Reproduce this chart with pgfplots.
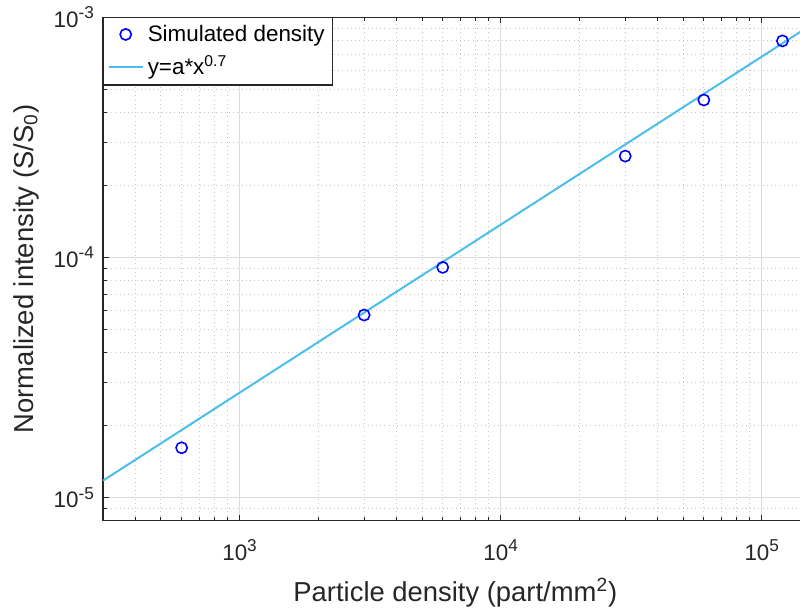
\documentclass[border=0pt]{standalone}
\usepackage{pgfplots}
\pgfplotsset{compat=1.18}
\usepackage{fontspec}
\setmainfont{Liberation Sans}
\definecolor{fitc}{rgb}{0.30,0.745,0.933}
\definecolor{axc}{rgb}{0.15,0.15,0.15}
\newcommand{\tp}[1]{10\raisebox{4.2pt}{\fontsize{8.6}{9}\selectfont #1}}
\pgfplotstableread{
x y
600 1.61e-5
3000 5.75e-5
6000 9.08e-5
30000 2.64e-4
60000 4.52e-4
120000 7.97e-4
}\simdata
\pgfplotstableread{
x y
300 1.175e-5
150000 9.10e-4
}\fitdata
\begin{document}
\begin{tikzpicture}
\begin{axis}[
  xmode=log, ymode=log,
  scale only axis, width=352.3pt, height=251.7pt,
  xmin=300, xmax=1.5e5, ymin=8e-6, ymax=1e-3,
  xtick={1e3,1e4,1e5},
  xticklabels={\tp{3},\tp{4},\tp{5}},
  ytick={1e-5,1e-4,1e-3},
  yticklabels={\tp{-5},\tp{-4},\tp{-3}},
  minor xtick={300,400,500,600,700,800,900,2000,3000,4000,5000,6000,7000,8000,9000,20000,30000,40000,50000,60000,70000,80000,90000},
  minor ytick={9e-6,2e-5,3e-5,4e-5,5e-5,6e-5,7e-5,8e-5,9e-5,2e-4,3e-4,4e-4,5e-4,6e-4,7e-4,8e-4,9e-4},
  grid=both,
  major grid style={color=black!14, line width=0.5pt},
  minor grid style={color=black!22, line width=0.5pt, dash pattern=on 0.5pt off 1.6pt},
  tick align=inside,
  major tick length=3pt, minor tick length=2pt,
  tick style={axc, line width=0.5pt},
  axis line style={axc, line width=0.6pt},
  ticklabel style={font=\fontsize{11.2}{12}\selectfont, color=axc},
  xticklabel style={yshift=-6pt},
  yticklabel style={xshift=-1pt},
  xlabel={Particle density (part/mm\textsuperscript{2})},
  ylabel={Normalized intensity (S/S\textsubscript{0})},
  label style={font=\fontsize{13.7}{15}\selectfont, color=axc},
  xlabel style={at={(axis description cs:0.5,0)}, anchor=base, yshift=-40.5pt},
  ylabel style={at={(axis description cs:-0.0993,0.5)}, anchor=base},
  legend style={at={(0,1)}, anchor=north west, draw=axc, line width=0.6pt, fill=white,
    font=\fontsize{11.2}{12}\selectfont, inner xsep=2pt, inner ysep=1.5pt, row sep=2pt},
  legend cell align=left,
]
\addplot[only marks, mark=o, mark size=2.8pt, blue, line width=0.8pt] table[x=x,y=y]{\simdata};
\addlegendentry{Simulated density}
\addplot[fitc, line width=1pt, no marks] table[x=x,y=y]{\fitdata};
\addlegendentry{y=a*x\textsuperscript{0.7}}
\coordinate (BL) at ([xshift=-51.5pt,yshift=-44.5pt]rel axis cs:0,0);
\coordinate (TR) at ([yshift=8.6pt]rel axis cs:0.989,1);
\end{axis}
\pgfresetboundingbox
\path[use as bounding box] (BL) rectangle (TR);
\end{tikzpicture}
\end{document}
